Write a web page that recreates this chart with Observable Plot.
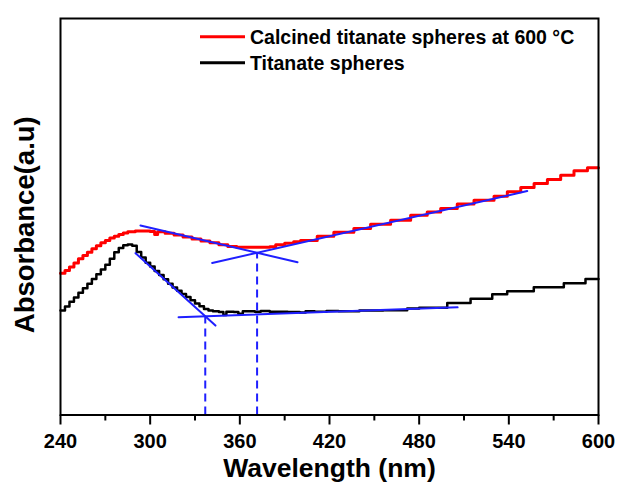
<!DOCTYPE html>
<html>
<head>
<meta charset="utf-8">
<script src="https://cdn.jsdelivr.net/npm/d3@7"></script>
<script src="https://cdn.jsdelivr.net/npm/@observablehq/plot@0.6"></script>
<style>
  html, body { margin: 0; padding: 0; background: #ffffff; }
  #chart { width: 619px; height: 482px; }
</style>
</head>
<body>
<div id="chart"></div>
<script>
// ---------------- data (the staircase is part of the original trace) ----------------
const calcinedWavelength = [240,243,246,249,252,255,258,261,264,267,270,273,276,279,282,285,290,300,303,305,
  310,316,322,328,334,340,346,352,358,380,384,390,396,
  400.6,411.8,422.9,436.3,447.5,460.9,474.3,485.4,494.4,505.5,516.7,530.1,539.0,548.0,556.9,565.8,574.7,583.6,592.6,600];
const calcinedAbsorbance = [35.2,35.9,36.8,37.8,38.9,39.7,40.5,41.4,42.2,42.9,43.5,44.1,44.6,45.0,45.4,45.7,45.9,45.8,45.0,45.7,
  45.3,44.9,44.4,43.9,43.4,42.9,42.4,42.0,41.8,41.9,42.4,42.8,43.2,
  43.5,44.6,45.6,46.5,47.6,48.6,49.9,50.7,51.6,52.7,53.7,54.7,55.8,56.9,57.9,58.9,60.0,61.1,61.9,61.9];

const titanateWavelength = [240,243,246,249,252,255,258,261,264,267,270,273,276,279,282,285,288,291,294,297,
  300,303,306,309,312,315,318,321,324,327,330,333,336,339,342,346,349,351,356,359,
  362,370,374,380,392,400,404,410,418,426,440,456,472,480,
  498.8,514.4,528.9,538.9,556.7,576.8,591.3,600];
const titanateAbsorbance = [25.8,26.8,28.0,29.1,30.3,31.4,32.6,33.8,35.0,36.2,37.4,38.9,40.5,41.6,42.3,42.5,42.2,40.6,39.2,37.9,
  36.9,35.8,34.8,33.7,32.6,31.6,30.8,30.0,29.2,28.4,27.6,26.9,26.2,25.8,25.6,25.4,24.7,25.5,25.4,25.0,
  25.6,25.5,25.7,25.5,25.4,25.3,25.6,25.5,25.7,25.6,25.8,25.9,26.3,26.5,
  27.7,28.8,29.9,30.7,31.7,32.7,33.8,33.8];

const seriesNames = ["Calcined titanate spheres at 600 \u00B0C", "Titanate spheres"];
const seriesColors = ["#ff0000", "#000000"];

const xTicks = [240, 300, 360, 420, 480, 540, 600];
const xMinorTicks = [270, 330, 390, 450, 510, 570];

// tangent lines: [wavelength, absorbance] endpoints
const tangentCalcinedFall = [[293.5, 47.3], [398.6, 38.0]];
const tangentCalcinedRise = [[341.5, 37.8], [552.3, 56.0]];
const tangentTitanateFall = [[290.2, 40.3], [343.7, 22.0]];
const tangentTitanateFlat = [[319.0, 24.1], [505.7, 26.6]];

const xDomain = [240, 600];
const yDomain = [-0.6, 99.6];

// ---------------- derived tables ----------------
const rowsCalcined = calcinedWavelength.map((w, i) => ({wl: w, abs: calcinedAbsorbance[i]}));
const rowsTitanate = titanateWavelength.map((w, i) => ({wl: w, abs: titanateAbsorbance[i]}));

function seg(t, name) { return t.map(([x, y]) => ({x, y, name})); }
const tangents = [
  ...seg(tangentCalcinedFall, "cf"), ...seg(tangentCalcinedRise, "cr"),
  ...seg(tangentTitanateFall, "tf"), ...seg(tangentTitanateFlat, "tl")
];

function intersect(a, b) {
  const m1 = (a[1][1] - a[0][1]) / (a[1][0] - a[0][0]);
  const m2 = (b[1][1] - b[0][1]) / (b[1][0] - b[0][0]);
  const x = (b[0][1] - a[0][1] + m1 * a[0][0] - m2 * b[0][0]) / (m1 - m2);
  return {x, y: a[0][1] + m1 * (x - a[0][0])};
}
const edges = [intersect(tangentTitanateFall, tangentTitanateFlat), intersect(tangentCalcinedFall, tangentCalcinedRise)];

// ---------------- legend (custom mark) ----------------
function legendMark(index, scales, values, dimensions) {
  const g = d3.create("svg:g");
  const x0 = dimensions.marginLeft + 140;
  const y0 = dimensions.marginTop + 18.7;
  seriesNames.forEach((name, i) => {
    const y = y0 + i * 26;
    g.append("line").attr("x1", x0).attr("x2", x0 + 45).attr("y1", y).attr("y2", y)
      .attr("stroke", seriesColors[i]).attr("stroke-width", 3);
    g.append("text").attr("x", x0 + 50).attr("y", y).attr("dy", "0.35em")
      .attr("text-anchor", "start")
      .attr("font-size", 19.5).attr("font-weight", "bold").attr("fill", "#000")
      .text(name);
  });
  return g.node();
}

const blue = "#1f1fff";

const chart = Plot.plot({
  width: 619,
  height: 482,
  marginLeft: 60,
  marginRight: 21,
  marginTop: 18,
  marginBottom: 67.5,
  style: {fontFamily: "'Liberation Sans', Arial, sans-serif", background: "#ffffff", color: "#000"},
  x: {domain: xDomain},
  y: {domain: yDomain, axis: null},
  marks: [
    Plot.line(rowsCalcined, {x: "wl", y: "abs", curve: "step-after", stroke: seriesColors[0], strokeWidth: 3}),
    Plot.line(rowsTitanate, {x: "wl", y: "abs", curve: "step-after", stroke: seriesColors[1], strokeWidth: 2.5}),
    Plot.line(tangents, {x: "x", y: "y", z: "name", stroke: blue, strokeWidth: 2}),
    Plot.ruleX(edges, {x: "x", y1: yDomain[0], y2: "y", stroke: blue, strokeWidth: 2, strokeDasharray: "8,5"}),
    Plot.frame({stroke: "#000", strokeWidth: 2}),
    Plot.axisX(xMinorTicks, {tickSize: 6, text: null, label: null, strokeWidth: 2}),
    Plot.axisX(xTicks, {tickSize: 10, tickPadding: 9, fontSize: 20, fontWeight: "bold", label: null, strokeWidth: 2, tickFormat: d => String(d)}),
    Plot.text(["Wavelength (nm)"], {frameAnchor: "bottom", lineAnchor: "bottom", dy: 62, fontSize: 26.5, fontWeight: "bold", fill: "#000"}),
    Plot.text(["Absorbance(a.u)"], {frameAnchor: "left", textAnchor: "middle", rotate: -90, dx: -35, dy: 8, fontSize: 27.5, fontWeight: "bold", fill: "#000"}),
    legendMark
  ]
});
document.getElementById("chart").appendChild(chart);
</script>
</body>
</html>
